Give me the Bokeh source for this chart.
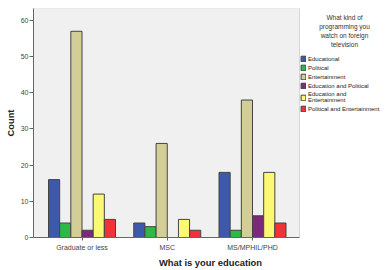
from bokeh.plotting import figure
from bokeh.models import (ColumnDataSource, Range1d, FixedTicker, Legend, LegendItem,
                          Label, BoxAnnotation)
from bokeh.transform import dodge
from bokeh.embed import file_html
from bokeh.resources import INLINE

# ---- data ----
education = ["Graduate or less", "MSC", "MS/MPHIL/PHD"]
series_labels = ["Educational", "Political", "Entertainment",
                 "Education and Political", "Education and\nEntertainment",
                 "Political and Entertainment"]
educational = [16, 4, 18]
political = [4, 3, 2]
entertainment = [57, 26, 38]
edu_political = [2, 0, 6]
edu_entertainment = [12, 5, 18]
pol_entertainment = [5, 2, 4]
y_ticks = [0, 10, 20, 30, 40, 50, 60]
legend_title = "What kind of\nprogramming you\nwatch on foreign\ntelevision"

colors = ["#3E58AC", "#2EB848", "#D3CE97", "#7C287D", "#FBF873", "#EF3338"]
series_values = [educational, political, entertainment,
                 edu_political, edu_entertainment, pol_entertainment]
keys = ["s0", "s1", "s2", "s3", "s4", "s5"]

data = {"x": list(range(len(education)))}
for k, v in zip(keys, series_values):
    data[k] = v
source = ColumnDataSource(data)

FONT = "Liberation Sans"

# layout geometry (pixels)
W, H = 387, 270
LEFT, TOP, BOTTOM = 33, 8, 32
BOX_W = 266                 # width of the grey plotting box
PX_PER_CAT = 85.25
X0 = -0.569
frame_w = W - LEFT
x_end = X0 + frame_w / PX_PER_CAT
box_right = X0 + BOX_W / PX_PER_CAT

p = figure(width=W, height=H, output_backend="svg", toolbar_location=None,
           x_range=Range1d(X0, x_end), y_range=Range1d(0, 63.3),
           min_border_left=LEFT, min_border_right=0, min_border_top=TOP,
           min_border_bottom=BOTTOM)
p.background_fill_color = "white"
p.border_fill_color = "white"
p.outline_line_color = None
p.grid.visible = False

box = BoxAnnotation(left=X0, right=box_right, bottom=0, top=63.3,
                    fill_color="#F0F0F0", fill_alpha=1.0,
                    line_color="#8C8C8C", line_width=1, level="underlay")
p.add_layout(box)

bw = 0.131
renderers = []
for i, (k, c) in enumerate(zip(keys, colors)):
    off = (i - 2.5) * bw
    r = p.vbar(x=dodge("x", off, range=p.x_range), top=k, width=bw, bottom=0,
               source=source, fill_color=c, line_color="#444444", line_width=1)
    renderers.append(r)

# axes
p.xaxis.ticker = FixedTicker(ticks=list(range(len(education))))
p.xaxis.major_label_overrides = {i: e for i, e in enumerate(education)}
p.xaxis.bounds = (X0, box_right)
p.yaxis.ticker = FixedTicker(ticks=y_ticks)
for ax in (p.xaxis[0], p.yaxis[0]):
    ax.axis_line_color = "#666666"
    ax.major_tick_line_color = "#666666"
    ax.minor_tick_line_color = None
    ax.major_tick_in = 0
    ax.major_label_text_font = FONT
    ax.major_label_text_font_size = "7px"
    ax.major_label_text_color = "#444444"
    ax.axis_label_text_font = FONT
    ax.axis_label_text_font_style = "bold"
    ax.axis_label_text_color = "#222222"

p.xaxis.axis_label = "What is your education"
p.xaxis.axis_label_text_font_size = "9.4px"
p.xaxis.major_tick_out = 3
p.xaxis.major_label_standoff = 3
p.xaxis.axis_label_standoff = 3

p.yaxis.axis_label = "Count"
p.yaxis.axis_label_text_font_size = "9.3px"
p.yaxis.major_tick_out = 4
p.yaxis.major_label_standoff = 1
p.yaxis.axis_label_standoff = 2

# legend (inside the frame, to the right of the grey box)
items = [LegendItem(label=lab, renderers=[r]) for lab, r in zip(series_labels, renderers)]
legend = Legend(items=items, location=(267, 125))
legend.padding = 0
legend.margin = 0
legend.spacing = 2
legend.glyph_width = 6
legend.glyph_height = 7
legend.label_standoff = 2
legend.label_height = 7
legend.label_text_font = FONT
legend.label_text_font_size = "6px"
legend.label_text_color = "#222222"
legend.label_text_line_height = 1.3
legend.border_line_color = None
legend.background_fill_alpha = 0
p.add_layout(legend)

title = Label(x=311, y=224, x_units="screen", y_units="screen", text=legend_title,
              text_align="center", text_baseline="top", text_font=FONT,
              text_font_size="6.5px", text_line_height=1.3, text_color="#333333")
p.add_layout(title)

open("out.html", "w").write(file_html(p, INLINE))
